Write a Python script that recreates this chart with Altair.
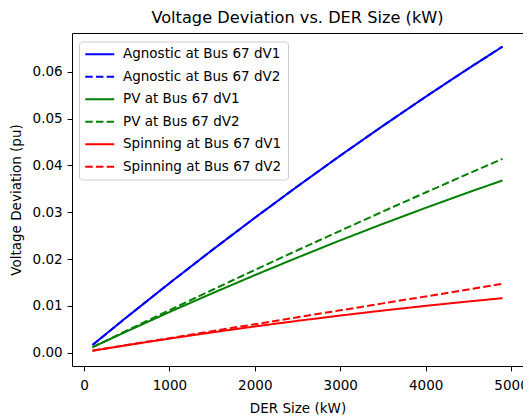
import altair as alt
import pandas as pd

# DER size (kW)
der_size = [100, 500, 1000, 1500, 2000, 2500, 3000, 3500, 4000, 4500, 4900]

# Voltage deviation (pu)
agnostic_dv1 = [0.00165, 0.00758, 0.01483, 0.02191, 0.02881, 0.03554, 0.04209, 0.04847, 0.05467, 0.06070, 0.06539]
agnostic_dv2 = [0.00165, 0.00758, 0.01483, 0.02191, 0.02881, 0.03554, 0.04209, 0.04847, 0.05467, 0.06070, 0.06539]
pv_dv1 = [0.00116, 0.00454, 0.00867, 0.01267, 0.01656, 0.02033, 0.02399, 0.02752, 0.03094, 0.03424, 0.03680]
pv_dv2 = [0.00116, 0.00470, 0.00907, 0.01339, 0.01766, 0.02188, 0.02604, 0.03016, 0.03422, 0.03824, 0.04141]
spin_dv1 = [0.00043, 0.00160, 0.00300, 0.00433, 0.00560, 0.00680, 0.00793, 0.00900, 0.01000, 0.01094, 0.01164]
spin_dv2 = [0.00043, 0.00162, 0.00310, 0.00459, 0.00607, 0.00756, 0.00904, 0.01053, 0.01201, 0.01350, 0.01470]

series_names = [
    "Agnostic at Bus 67 dV1",
    "Agnostic at Bus 67 dV2",
    "PV at Bus 67 dV1",
    "PV at Bus 67 dV2",
    "Spinning at Bus 67 dV1",
    "Spinning at Bus 67 dV2",
]
series_values = [agnostic_dv1, agnostic_dv2, pv_dv1, pv_dv2, spin_dv1, spin_dv2]
series_colors = ["#0000ff", "#0000ff", "#008000", "#008000", "#ff0000", "#ff0000"]
solid = [1, 0]
dashed = [7.5, 3.2]
series_dashes = [solid, dashed, solid, dashed, solid, dashed]

x_ticks = [0, 1000, 2000, 3000, 4000, 5000]
y_ticks = [0.0, 0.01, 0.02, 0.03, 0.04, 0.05, 0.06]

rows = []
for name, vals in zip(series_names, series_values):
    for i, (x, y) in enumerate(zip(der_size, vals)):
        rows.append({"series": name, "size": x, "dev": y, "idx": i})
df = pd.DataFrame(rows)

FONT = "DejaVu Sans"
FS = 13.5

chart = alt.Chart(df).mark_line(strokeWidth=2, clip=True).encode(
    x=alt.X("size:Q",
            scale=alt.Scale(domain=[-140, 5140], nice=False, zero=False),
            axis=alt.Axis(title="DER Size (kW)", values=x_ticks, format="d",
                          labelPadding=7.5, titlePadding=10)),
    y=alt.Y("dev:Q",
            scale=alt.Scale(domain=[-0.00285, 0.0683], nice=False, zero=False),
            axis=alt.Axis(title="Voltage Deviation (pu)", values=y_ticks, format=".2f",
                          labelPadding=5, titlePadding=8.5)),
    color=alt.Color("series:N",
                    scale=alt.Scale(domain=series_names, range=series_colors),
                    legend=alt.Legend(title=None, orient="none", legendX=7, legendY=8.5,
                                      symbolType="M-2.9,0L2.9,0", symbolSize=100,
                                      symbolStrokeWidth=2, symbolOffset=8,
                                      labelOffset=16.5, rowPadding=7.5,
                                      padding=6, labelFontSize=FS, labelFont=FONT,
                                      labelColor="#000000",
                                      strokeColor="#cccccc", fillColor="rgba(255,255,255,0.8)",
                                      cornerRadius=3)),
    strokeDash=alt.StrokeDash("series:N",
                              scale=alt.Scale(domain=series_names, range=series_dashes),
                              legend=alt.Legend(title=None)),
    order="idx:Q",
).properties(
    width=451,
    height=333,
    title=alt.TitleParams("Voltage Deviation vs. DER Size (kW)", fontSize=16.2, font=FONT,
                          fontWeight="normal", color="#000000", anchor="middle",
                          baseline="alphabetic", offset=8, dy=14),
    padding={"left": 64, "top": 25, "right": 0, "bottom": 51},
    autosize=alt.AutoSizeParams(type="none"),
).configure_view(
    stroke="#000000", strokeWidth=1
).configure_axis(
    grid=False, domain=False,
    tickColor="#000000", tickWidth=1, tickSize=4.9,
    labelFont=FONT, labelFontSize=FS, labelColor="#000000",
    titleFont=FONT, titleFontSize=FS, titleFontWeight="normal", titleColor="#000000",
)

chart.save("out.html", embed_options={"renderer": "svg", "actions": False})
